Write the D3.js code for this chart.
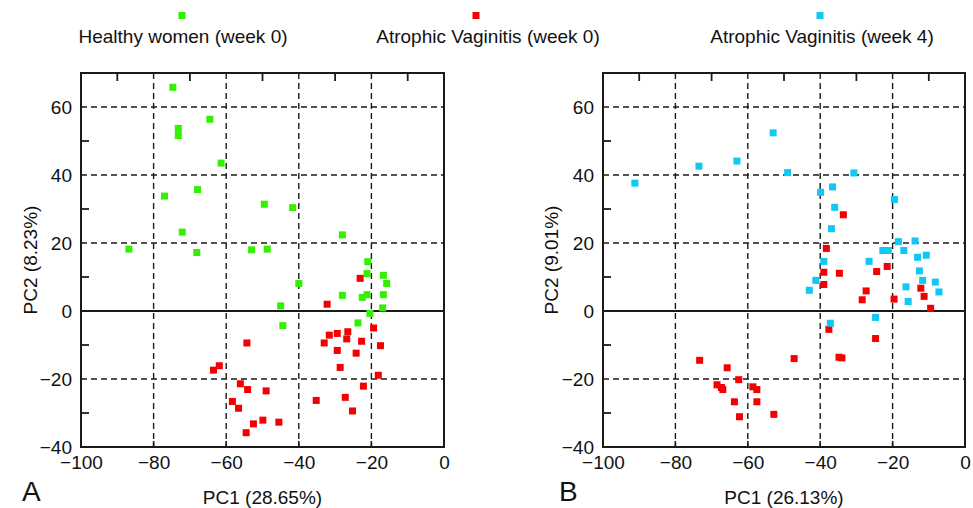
<!DOCTYPE html>
<html lang="en">
<head>
    <meta charset="UTF-8">
    <title>PCA score plots</title>
    <style>
        body { margin: 0; background: #fff; }
        svg text { font-family: "Liberation Sans", Arial, sans-serif; }
    </style>
</head>
<body>
    <script src="https://d3js.org/d3.v7.min.js"></script>
    <script>
        // canvas
        var width = 973;
        var height = 508;
        var svg = d3.select('body').append('svg').attr('width', width).attr('height', height);

        // ticks
        var xTicks = [-100, -80, -60, -40, -20, 0];
        var yTicks = [-40, -20, 0, 20, 40, 60];
        var xMinor = [-90, -70, -50, -30, -10];
        var yMinor = [-30, -10, 10, 30, 50];

        // legend
        var groupNames = ['Healthy women (week 0)', 'Atrophic Vaginitis (week 0)', 'Atrophic Vaginitis (week 4)'];
        var groupColors = ['#33f000', '#f50000', '#10c8f2'];

        // panel A  [PC1, PC2]
        var healthyA = [
            [-74.7, 65.8], [-64.5, 56.4], [-73.2, 53.7], [-73.2, 51.6], [-61.4, 43.5],
            [-67.9, 35.7], [-77.0, 33.8], [-72.1, 23.2], [-86.8, 18.2], [-68.1, 17.2],
            [-53.0, 18.0], [-49.5, 31.4], [-41.7, 30.4], [-28.0, 22.4], [-48.7, 18.2],
            [-21.0, 14.5], [-21.2, 11.0], [-16.7, 10.5], [-15.8, 8.1], [-40.0, 8.1],
            [-28.0, 4.6], [-22.5, 4.0], [-21.2, 4.8], [-16.7, 4.8], [-45.0, 1.5],
            [-16.9, 0.9], [-20.4, -0.7], [-44.4, -4.3], [-23.7, -3.5]
        ];
        var atrophicA0 = [
            [-54.3, -9.4], [-61.9, -16.1], [-63.5, -17.4], [-56.1, -21.4], [-54.1, -23.1],
            [-58.3, -26.6], [-56.6, -28.6], [-52.5, -33.2], [-54.5, -35.8], [-23.1, 9.6],
            [-32.2, 2.0], [-19.4, -5.0], [-26.5, -6.1], [-29.4, -6.6], [-31.6, -7.1],
            [-26.8, -8.2], [-22.7, -8.9], [-33.0, -9.4], [-17.5, -10.2], [-29.4, -11.6],
            [-24.2, -12.4], [-28.6, -16.6], [-18.1, -18.9], [-22.2, -22.1], [-49.0, -23.5],
            [-49.9, -32.1], [-45.5, -32.7], [-35.2, -26.3], [-27.2, -25.4], [-25.2, -29.4]
        ];

        // panel B
        var atrophicB0 = [
            [-33.6, 28.3], [-38.3, 18.4], [-21.5, 13.1], [-39.0, 11.4], [-34.7, 11.1],
            [-24.4, 11.6], [-39.0, 7.8], [-27.3, 5.9], [-12.2, 6.7], [-28.4, 3.3],
            [-19.6, 3.5], [-11.3, 4.3], [-9.5, 0.8], [-37.6, -5.4], [-24.7, -8.1],
            [-47.2, -14.0], [-34.8, -13.6], [-34.0, -13.8], [-52.8, -30.4], [-73.3, -14.5],
            [-65.7, -16.7], [-62.5, -20.2], [-68.5, -21.7], [-67.3, -22.5], [-66.9, -23.1],
            [-58.6, -22.3], [-57.5, -23.1], [-63.7, -26.7], [-57.5, -26.7], [-62.3, -31.1]
        ];
        var atrophicB4 = [
            [-53.0, 52.4], [-63.0, 44.1], [-73.5, 42.6], [-91.2, 37.6], [-49.0, 40.7],
            [-30.7, 40.6], [-36.6, 36.5], [-39.9, 34.9], [-19.5, 32.8], [-36.0, 30.5],
            [-36.9, 24.2], [-18.4, 20.4], [-13.8, 20.6], [-22.7, 17.8], [-21.2, 17.8],
            [-16.9, 17.8], [-13.1, 15.8], [-10.7, 16.4], [-39.0, 14.6], [-26.5, 14.6],
            [-12.6, 11.8], [-41.2, 9.0], [-11.7, 9.0], [-8.2, 8.5], [-43.0, 6.1],
            [-16.3, 7.1], [-7.2, 5.6], [-15.7, 2.8], [-24.7, -1.9], [-37.2, -3.6]
        ];

        var font = '"Liberation Sans", Arial, sans-serif';
        var ink = '#1a1a1a';

        function drawPanel(p) {
            var x = d3.scaleLinear().domain([-100, 0]).range([p.left, p.right]);
            var y = d3.scaleLinear().domain([-40, 70]).range([p.bottom, p.top]);
            var g = svg.append('g');

            // dashed grid
            g.selectAll('.vgrid').data(xTicks.filter(function (d) { return d > -100 && d < 0; }))
                .enter().append('line')
                .attr('x1', function (d) { return x(d); }).attr('x2', function (d) { return x(d); })
                .attr('y1', p.top).attr('y2', p.bottom)
                .attr('stroke', ink).attr('stroke-width', 1.4).attr('stroke-dasharray', '6,4');
            g.selectAll('.hgrid').data(yTicks.filter(function (d) { return d > -40 && d !== 0; }))
                .enter().append('line')
                .attr('y1', function (d) { return y(d); }).attr('y2', function (d) { return y(d); })
                .attr('x1', p.left).attr('x2', p.right)
                .attr('stroke', ink).attr('stroke-width', 1.4).attr('stroke-dasharray', '6,4');

            // zero line
            g.append('line').attr('x1', p.left).attr('x2', p.right).attr('y1', y(0)).attr('y2', y(0))
                .attr('stroke', ink).attr('stroke-width', 1.8);

            // small ticks inside the frame
            g.selectAll('.tt').data(xMinor).enter().append('line')
                .attr('x1', function (d) { return x(d); }).attr('x2', function (d) { return x(d); })
                .attr('y1', p.top).attr('y2', p.top + 8)
                .attr('stroke', ink).attr('stroke-width', 1.8);
            g.selectAll('.bt').data(xTicks).enter().append('line')
                .attr('x1', function (d) { return x(d); }).attr('x2', function (d) { return x(d); })
                .attr('y1', p.bottom).attr('y2', p.bottom - 6)
                .attr('stroke', ink).attr('stroke-width', 1.6);
            g.selectAll('.lt').data(yMinor).enter().append('line')
                .attr('y1', function (d) { return y(d); }).attr('y2', function (d) { return y(d); })
                .attr('x1', p.left).attr('x2', p.left + 8)
                .attr('stroke', ink).attr('stroke-width', 1.8);

            // frame
            g.append('rect').attr('x', p.left).attr('y', p.top)
                .attr('width', p.right - p.left).attr('height', p.bottom - p.top)
                .attr('fill', 'none').attr('stroke', ink).attr('stroke-width', 2);

            // tick labels
            var yAxis = d3.axisLeft(y).tickValues(yTicks).tickSize(0).tickPadding(9);
            var ya = g.append('g').attr('transform', 'translate(' + p.left + ',0)').call(yAxis);
            ya.select('.domain').remove();
            ya.attr('font-size', 19).attr('font-family', font);
            ya.selectAll('text').attr('fill', '#111');

            var xAxis = d3.axisBottom(x).tickValues(xTicks).tickSize(0).tickPadding(9);
            var xa = g.append('g').attr('transform', 'translate(0,' + p.bottom + ')').call(xAxis);
            xa.select('.domain').remove();
            xa.attr('font-size', 19).attr('font-family', font);
            xa.selectAll('text').attr('fill', '#111');

            // axis titles
            g.append('text').attr('x', (p.left + p.right) / 2).attr('y', 504)
                .attr('text-anchor', 'middle').attr('font-size', 19).attr('fill', '#111')
                .text(p.xTitle);
            g.append('text')
                .attr('transform', 'translate(' + p.yTitleX + ',' + (p.top + p.bottom) / 2 + ') rotate(-90)')
                .attr('text-anchor', 'middle').attr('font-size', 19).attr('fill', '#111')
                .text(p.yTitle);
            g.append('text').attr('x', p.letterX).attr('y', 501)
                .attr('font-size', 28).attr('fill', '#111').text(p.letter);

            // points
            p.series.forEach(function (s) {
                g.append('g').selectAll('rect').data(s.data).enter().append('rect')
                    .attr('x', function (d) { return x(d[0]) - 3.5; })
                    .attr('y', function (d) { return y(d[1]) - 3.5; })
                    .attr('width', 7).attr('height', 7)
                    .attr('fill', s.color);
            });
        }

        drawPanel({
            left: 81, right: 444, top: 73, bottom: 447,
            xTitle: 'PC1 (28.65%)', yTitle: 'PC2 (8.23%)', yTitleX: 37,
            letter: 'A', letterX: 22,
            series: [{ data: healthyA, color: groupColors[0] }, { data: atrophicA0, color: groupColors[1] }]
        });
        drawPanel({
            left: 603, right: 965, top: 73, bottom: 447,
            xTitle: 'PC1 (26.13%)', yTitle: 'PC2 (9.01%)', yTitleX: 558,
            letter: 'B', letterX: 559,
            series: [{ data: atrophicB0, color: groupColors[1] }, { data: atrophicB4, color: groupColors[2] }]
        });

        // legend
        var legendX = [183, 488, 822];
        var markerX = [182, 476, 820];
        var legend = svg.append('g');
        legend.selectAll('rect').data(groupNames).enter().append('rect')
            .attr('x', function (d, i) { return markerX[i] - 3.5; }).attr('y', 12)
            .attr('width', 7).attr('height', 7)
            .attr('fill', function (d, i) { return groupColors[i]; });
        legend.selectAll('text').data(groupNames).enter().append('text')
            .attr('x', function (d, i) { return legendX[i]; }).attr('y', 43)
            .attr('text-anchor', 'middle').attr('font-size', 19).attr('fill', '#111')
            .text(function (d) { return d; });
    </script>
</body>
</html>
